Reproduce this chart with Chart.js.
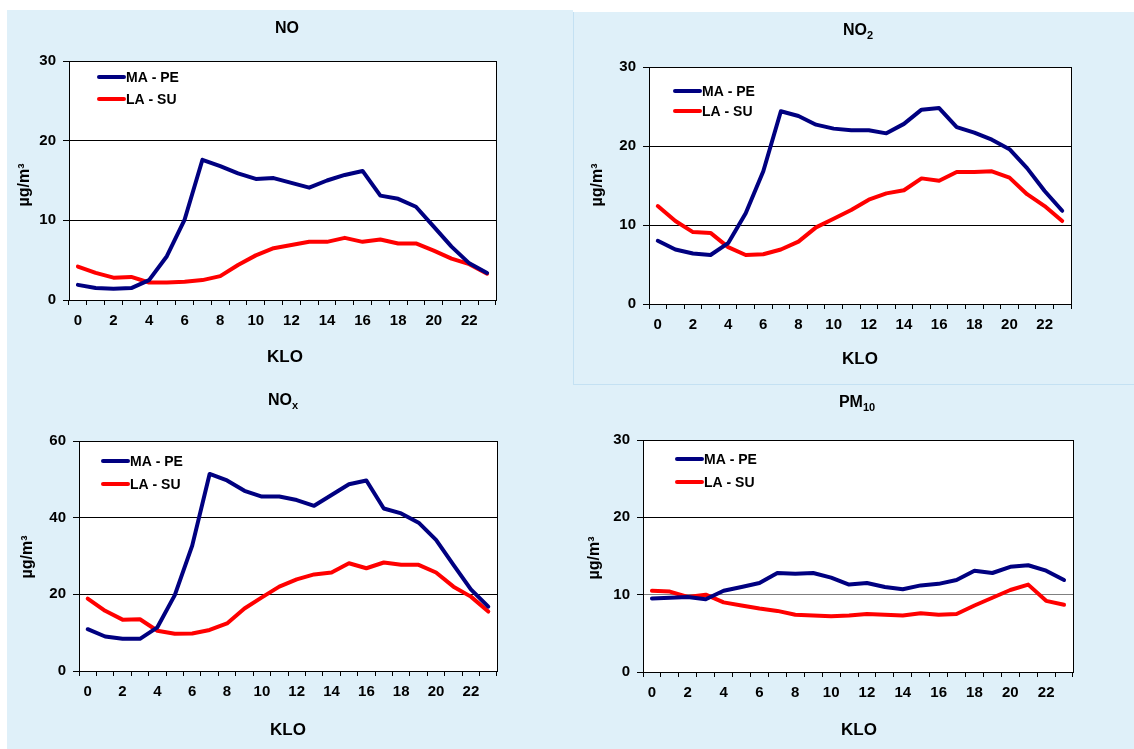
<!DOCTYPE html>
<html>
<head>
<meta charset="utf-8">
<script src="https://cdn.jsdelivr.net/npm/chart.js@4.4.1/dist/chart.umd.min.js"></script>
<style>
  body { margin: 0; background: #fff; width: 1134px; height: 749px; overflow: hidden; position: relative; }
  .bg { position: absolute; background: #dff0f9; }
  canvas { position: absolute; }
</style>
</head>
<body>
<div class="bg" style="left:7px;top:10px;width:566px;height:739px"></div>
<div class="bg" style="left:573px;top:12px;width:561px;height:737px"></div>
<div style="position:absolute;left:573px;top:12px;width:561px;height:373px;border-left:1px solid #c4e1f3;border-bottom:1px solid #c4e1f3;box-sizing:border-box"></div>

<canvas id="cNO" width="566" height="370" style="left:7px;top:10px"></canvas>
<canvas id="cNO2" width="560" height="372" style="left:574px;top:12px"></canvas>
<canvas id="cNOx" width="566" height="365" style="left:7px;top:384px"></canvas>
<canvas id="cPM" width="560" height="365" style="left:574px;top:384px"></canvas>

<script>
// hour of day
const hours = [0, 1, 2, 3, 4, 5, 6, 7, 8, 9, 10, 11, 12, 13, 14, 15, 16, 17, 18, 19, 20, 21, 22, 23];

// NO
const noMaPe = [1.9, 1.5, 1.4, 1.5, 2.5, 5.5, 10.1, 17.6, 16.8, 15.9, 15.2, 15.3, 14.7, 14.1, 15.0, 15.7, 16.2, 13.1, 12.7, 11.7, 9.2, 6.7, 4.6, 3.4];
const noLaSu = [4.2, 3.4, 2.8, 2.9, 2.2, 2.2, 2.3, 2.5, 3.0, 4.4, 5.6, 6.5, 6.9, 7.3, 7.3, 7.8, 7.3, 7.6, 7.1, 7.1, 6.2, 5.2, 4.5, 3.3];

// NO2
const no2MaPe = [8.0, 6.9, 6.4, 6.2, 7.7, 11.5, 16.8, 24.4, 23.8, 22.7, 22.2, 22.0, 22.0, 21.6, 22.8, 24.6, 24.8, 22.4, 21.7, 20.8, 19.6, 17.2, 14.3, 11.8];
const no2LaSu = [12.4, 10.5, 9.1, 9.0, 7.2, 6.2, 6.3, 6.9, 7.9, 9.7, 10.8, 11.9, 13.2, 14.0, 14.4, 15.9, 15.6, 16.7, 16.7, 16.8, 16.0, 13.9, 12.4, 10.5];

// NOx
const noxMaPe = [10.9, 9.0, 8.4, 8.4, 11.4, 19.8, 32.7, 51.4, 49.7, 47.0, 45.5, 45.5, 44.6, 43.1, 45.9, 48.7, 49.7, 42.4, 41.1, 38.7, 34.2, 27.7, 21.3, 16.8];
const noxLaSu = [18.9, 15.7, 13.4, 13.5, 10.5, 9.7, 9.8, 10.7, 12.4, 16.3, 19.2, 22.0, 23.9, 25.2, 25.7, 28.1, 26.8, 28.3, 27.7, 27.7, 25.7, 22.0, 19.4, 15.5];

// PM10
const pmMaPe = [9.5, 9.6, 9.7, 9.4, 10.5, 11.0, 11.5, 12.8, 12.7, 12.8, 12.2, 11.3, 11.5, 11.0, 10.7, 11.2, 11.4, 11.9, 13.1, 12.8, 13.6, 13.8, 13.1, 11.9];
const pmLaSu = [10.5, 10.4, 9.7, 10.0, 9.0, 8.6, 8.2, 7.9, 7.4, 7.3, 7.2, 7.3, 7.5, 7.4, 7.3, 7.6, 7.4, 7.5, 8.6, 9.6, 10.6, 11.3, 9.2, 8.7];

const FONT = "'Liberation Sans', Arial, sans-serif";

const decor = {
  id: "decor",
  beforeDraw(chart) {
    const a = chart.chartArea, ctx = chart.ctx;
    ctx.save();
    ctx.fillStyle = "#fff";
    ctx.fillRect(a.left, a.top, a.right - a.left, a.bottom - a.top);
    ctx.restore();
  },
  beforeDatasetsDraw(chart) {
    const a = chart.chartArea, ctx = chart.ctx;
    ctx.save();
    ctx.strokeStyle = "#000";
    ctx.lineWidth = 1;
    ctx.strokeRect(Math.round(a.left) + 0.5, Math.round(a.top) + 0.5, Math.round(a.right - a.left), Math.round(a.bottom - a.top));
    ctx.restore();
  },
  afterDraw(chart, args, o) {
    const ctx = chart.ctx, a = chart.chartArea;
    ctx.save();
    ctx.fillStyle = "#000";
    ctx.textBaseline = "middle";

    // title with subscript
    ctx.font = "bold 16px " + FONT;
    const w1 = ctx.measureText(o.title).width;
    ctx.font = "bold 11px " + FONT;
    const w2 = o.sub ? ctx.measureText(o.sub).width : 0;
    let x = o.tx - (w1 + w2) / 2;
    ctx.textAlign = "left";
    ctx.font = "bold 16px " + FONT;
    ctx.fillText(o.title, x, o.ty);
    if (o.sub) {
      ctx.font = "bold 11px " + FONT;
      ctx.fillText(o.sub, x + w1, o.ty + 5);
    }

    // x title
    ctx.textAlign = "center";
    ctx.font = "bold 17px " + FONT;
    ctx.fillText("KLO", o.kx, o.ky);

    // y title
    ctx.save();
    ctx.translate(o.ux, o.uy);
    ctx.rotate(-Math.PI / 2);
    ctx.font = "bold 16px " + FONT;
    ctx.fillText("µg/m³", 0, 0);
    ctx.restore();

    // legend inside plot
    chart.data.datasets.forEach((ds, i) => {
      const lx = a.left + o.lx, ly = a.top + o.ly + i * o.lgap;
      ctx.strokeStyle = ds.borderColor;
      ctx.lineWidth = 4;
      ctx.lineCap = "round";
      ctx.beginPath();
      ctx.moveTo(lx + 2, ly);
      ctx.lineTo(lx + 27, ly);
      ctx.stroke();
      ctx.textAlign = "left";
      ctx.font = "bold 14px " + FONT;
      ctx.fillText(ds.label, lx + 29, ly + 1);
    });
    ctx.restore();
  },
};

function makePanel(id, ma, la, yMax, g, d, gridTint) {
  return new Chart(document.getElementById(id), {
    type: "line",
    plugins: [decor],
    data: {
      labels: hours,
      datasets: [
        { label: "MA - PE", data: ma, borderColor: "#000080" },
        { label: "LA - SU", data: la, borderColor: "#ff0000" },
      ],
    },
    options: {
      responsive: false,
      animation: false,
      devicePixelRatio: 1,
      layout: { padding: { top: g.top, right: g.right, left: 0, bottom: 0 } },
      elements: {
        point: { radius: 0 },
        line: { borderWidth: 4, tension: 0, borderJoinStyle: "round", borderCapStyle: "round", fill: false },
      },
      plugins: { legend: { display: false }, tooltip: { enabled: false }, decor: d },
      scales: {
        x: {
          type: "category",
          offset: true,
          afterFit: (s) => { s.height = g.xh; },
          grid: { offset: true, drawOnChartArea: false, color: "#000", tickLength: 5, tickColor: "#000" },
          border: { display: true, color: "#000" },
          ticks: {
            autoSkip: false,
            maxRotation: 0,
            padding: 7,
            color: "#000",
            font: { family: FONT, size: 15, weight: "bold" },
            callback: (v, i) => (i % 2 === 0 ? String(hours[i]) : ""),
          },
        },
        y: {
          min: 0,
          max: yMax,
          afterFit: (s) => { s.width = g.yw; },
          grid: {
            color: (c) => (gridTint && c.tick && c.tick.value === gridTint ? "#808080" : "#000"),
            tickColor: "#000",
            tickLength: 6,
          },
          border: { display: true, color: "#000" },
          ticks: {
            stepSize: yMax / 3,
            padding: 7,
            color: "#000",
            font: { family: FONT, size: 15, weight: "bold" },
          },
        },
      },
    },
  });
}

makePanel("cNO", noMaPe, noLaSu, 30,
  { top: 51, right: 77, yw: 62, xh: 80 },
  { title: "NO", sub: "", tx: 280, ty: 19, kx: 278, ky: 347, ux: 18, uy: 175, lx: 28, ly: 16, lgap: 22 });

makePanel("cNO2", no2MaPe, no2LaSu, 30,
  { top: 55, right: 63, yw: 75, xh: 80 },
  { title: "NO", sub: "2", tx: 284, ty: 19, kx: 286, ky: 347, ux: 24, uy: 173, lx: 24, ly: 24, lgap: 20 });

makePanel("cNOx", noxMaPe, noxLaSu, 60,
  { top: 57, right: 76, yw: 72, xh: 78 },
  { title: "NO", sub: "x", tx: 276, ty: 17, kx: 281, ky: 346, ux: 21, uy: 173, lx: 22, ly: 20, lgap: 23 });

makePanel("cPM", pmMaPe, pmLaSu, 30,
  { top: 56, right: 61, yw: 69, xh: 77 },
  { title: "PM", sub: "10", tx: 283, ty: 19, kx: 285, ky: 346, ux: 21, uy: 174, lx: 32, ly: 19, lgap: 23 }, 10);
</script>
</body>
</html>
